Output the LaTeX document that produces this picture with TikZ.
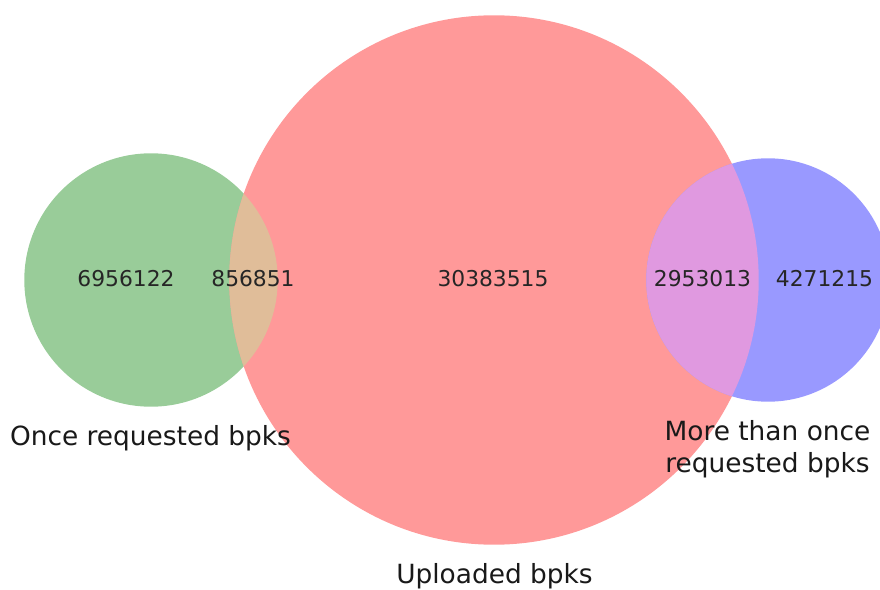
\documentclass[tikz,border=0pt]{standalone}
\usepackage{fontspec}
\setmainfont{DejaVu Sans}
\definecolor{cgreen}{RGB}{153,204,153}
\definecolor{cred}{RGB}{255,153,153}
\definecolor{cblue}{RGB}{153,153,255}
\definecolor{credgreen}{RGB}{224,189,153}
\definecolor{credblue}{RGB}{224,153,224}
\tikzset{
  count/.style={anchor=base, inner sep=0pt, font=\fontsize{21.8bp}{26bp}\selectfont, text=black!85},
  setlabel/.style={anchor=base, inner sep=0pt, align=center, font=\fontsize{26.4bp}{32.7bp}\selectfont, text=black!90},
}
\begin{document}
\begin{tikzpicture}[x=1bp, y=-1bp]
  \useasboundingbox (0,0) rectangle (880,590);
  % sets
  \fill[cgreen] (151,280) circle[radius=126.7];
  \fill[cred]   (494,280) circle[radius=264.7];
  \begin{scope}
    \clip (0,0) rectangle (880,590);
    \fill[cblue] (768,280) circle[radius=121.7];
  \end{scope}
  % pairwise intersections
  \begin{scope}
    \clip (494,280) circle[radius=264.7];
    \fill[credgreen] (151,280) circle[radius=126.7];
    \fill[credblue]  (768,280) circle[radius=121.7];
  \end{scope}
  % region counts
  \node[count] (gonly) at (126,286.5) {6956122};
  \node[count] (rg)    at (253,286.5) {856851};
  \node[count] (ronly) at (493,286.5) {30383515};
  \node[count] (rb)    at (702.5,286.5) {2953013};
  \node[count] (bonly) at (824.5,286.5) {4271215};
  % set labels (multi-line label is anchored on its last baseline)
  \node[setlabel] (lgreen) at (150.5,445) {Once requested bpks};
  \node[setlabel] (lred)   at (494.5,583) {Uploaded bpks};
  \node[setlabel] (lblue)  at (767.5,472.7) {More than once\\requested bpks};
\end{tikzpicture}
\end{document}
